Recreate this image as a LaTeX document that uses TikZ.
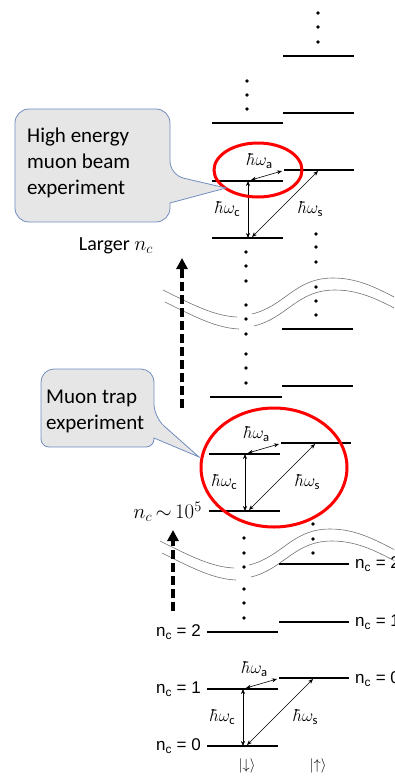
\documentclass[tikz,border=0pt]{standalone}
\usepackage{amsmath}
\usepackage{fontspec}
\setmainfont{Carlito}
\newfontfamily\arialfont{Liberation Sans}
\usetikzlibrary{arrows.meta}

\definecolor{bubblefill}{RGB}{231,230,230}
\definecolor{bubbleline}{RGB}{114,142,192}

\tikzset{
  statebar/.style={line width=2.8pt},
  trans/.style={{Stealth[length=5pt,width=4pt]}-{Stealth[length=5pt,width=4pt]}, line width=0.6pt},
  freq/.style={font=\fontsize{18}{18}\selectfont, inner sep=0pt},
  ring/.style={red, line width=3pt},
  wave/.style={black!55, line width=0.6pt},
  bigarrow/.style={line width=4pt, dash pattern=on 9pt off 4pt,
    -{Triangle[length=11pt,width=11pt]}},
  bubble/.style={draw=bubbleline, fill=bubblefill, line width=0.8pt},
  bubbletext/.style={font=\fontsize{21}{26}\selectfont, align=left, inner sep=0pt},
  nclabel/.style={font=\arialfont\fontsize{17}{17}\selectfont, inner sep=1pt},
}

\begin{document}
\begin{tikzpicture}[x=1pt, y=-1pt]
    \useasboundingbox (0,0) rectangle (394,776);
    \clip (0,0) rectangle (394,776);
    % broken axis
    \foreach \sx/\sy in {0/0, 2/12, -3/251, -1/263}
      { \draw[wave, shift={(\sx,\sy)}] (163,290) .. controls (195,306) and (215,316) .. (237,317);
        \draw[wave, shift={(\sx,\sy)}] (252,314) .. controls (285,306) and (295,278) .. (333,278)
          .. controls (360,278) and (380,290) .. (400,300); }
    % levels outside the three groups
    \foreach \xa/\xb/\y in {212/283/123, 283/354/56, 283/354/113, 210/282/397, 282/353/329,
        282/353/386, 207/278/632, 279/349/564, 279/349/622}
      \draw[statebar] (\xa,\y) -- (\xb,\y);
    \foreach \x/\y in {318/13, 318/27, 318/42, 247/81, 247/95, 247/109,
        316/234, 316/247, 316/262, 316/287, 316/301, 316/315,
        246/252, 246/266, 246/281, 246/305, 246/319, 246/334, 246/354, 246/368, 246/383,
        313/524, 313/539, 313/553,
        244/538, 244/553, 244/567, 244/589, 244/603, 244/618}
      \fill (\x,\y) circle (1.8pt);
    % the three transition groups
    \foreach \gx/\gy/\g in {5/-508/hi, 2/-235/trap, 0/0/low}
      { \begin{scope}[shift={(\gx,\gy)}]
          \draw[statebar] (207,689) -- (278,689);
          \draw[statebar] (279,678) -- (349,678);
          \draw[statebar] (207,746) -- (278,746);
          \coordinate (\g-c1) at (243,689);
          \coordinate (\g-c0) at (243,746);
          \coordinate (\g-a0) at (246,688);
          \coordinate (\g-a1) at (277,679);
          \coordinate (\g-s0) at (247,745);
          \coordinate (\g-s1) at (313,679);
          \draw[trans] (\g-c0) -- (\g-c1);
          \draw[trans] (\g-a0) -- (\g-a1);
          \draw[trans] (\g-s0) -- (\g-s1);
          \node[freq] (\g-wa) at (255,669) {$\hbar\omega_\mathrm{a}$};
          \node[freq] (\g-wc) at (223,717) {$\hbar\omega_\mathrm{c}$};
          \node[freq] (\g-ws) at (306,717) {$\hbar\omega_\mathrm{s}$};
        \end{scope} }
    \draw[ring] (258,170) ellipse [x radius=44pt, y radius=27pt];
    \draw[ring] (274,467.5) ellipse [x radius=73pt, y radius=59.5pt];
    % rising n_c
    \coordinate (up1) at (182,408);
    \coordinate (up1tip) at (182,258);
    \coordinate (up2) at (173,611);
    \coordinate (up2tip) at (173,530);
    \draw[bigarrow] (up1) -- (up1tip);
    \draw[bigarrow] (up2) -- (up2tip);
    \node[font=\fontsize{20}{20}\selectfont] (larger) at (116,246) {Larger $n_c$};
    \node[font=\fontsize{22}{22}\selectfont, anchor=east, inner sep=0pt] (ncbig) at (202,512)
      {$n_c\,{\sim}\,10^5$};
    % callouts
    \draw[bubble] (15,165) [rounded corners=14pt] -- (15,109) -- (170,109) -- (170,175)
      [sharp corners] -- (226,188) -- (170,203) [rounded corners=14pt] -- (170,222)
      -- (15,222) -- cycle;
    \node[bubbletext, anchor=west] (hebeam) at (27,163) {High energy\\muon beam\\experiment};
    \draw[bubble] (41,408) [rounded corners=13pt] -- (41,369) -- (154,369) -- (154,417)
      [sharp corners] -- (199,457) -- (154,438) [rounded corners=8pt] -- (154,447)
      -- (41,447) -- cycle;
    \node[bubbletext, anchor=west] (trap) at (46,411) {Muon trap\\experiment};
    % quantum numbers
    \foreach \n/\y in {2/632, 1/689, 0/746}
      \node[nclabel, anchor=east] (ndn\n) at (202,\y) {n$_\text{c}$ = \n};
    \foreach \n/\y in {2/564, 1/622, 0/679}
      \node[nclabel, anchor=west] (nup\n) at (354,\y) {n$_\text{c}$ = \n};
    \node[font=\fontsize{15}{15}\selectfont] (spindn) at (247,766) {$|{\downarrow}\rangle$};
    \node[font=\fontsize{15}{15}\selectfont] (spinup) at (318,766) {$|{\uparrow}\rangle$};
  \end{tikzpicture}
\end{document}
